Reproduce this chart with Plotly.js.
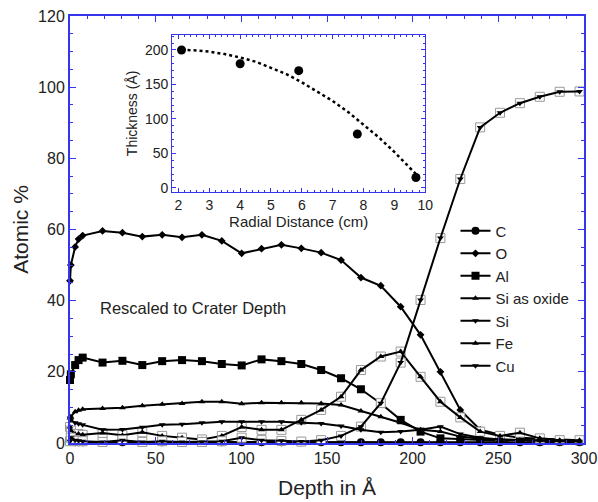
<!DOCTYPE html>
<html>
<head>
<meta charset="utf-8">
<script src="https://cdn.plot.ly/plotly-3.0.1.min.js"></script>
<style>html,body{margin:0;padding:0;background:#fff;}#chart{width:598px;height:502px;}</style>
</head>
<body>
<div id="chart"></div>
<script>
// Depth profile (Å)
const depth = [0, 0.5, 3, 5, 7.4, 19, 30.6, 42.2, 53.8, 65.4, 77, 88.6, 100.2, 111.8, 123.4, 135, 146.6, 158.2, 169.8, 181.4, 193, 204.6, 216.2, 227.8, 239.4, 251, 262.6, 274.2, 285.8, 297.4];
const C_vals = [0.3, 0.3, 0.2, 0.2, 0.2, 0.2, 0.2, 0.2, 0.2, 0.2, 0.2, 0.2, 0.2, 0.2, 0.2, 0.2, 0.2, 0.2, 0.2, 0.2, 0.2, 0.2, 0.2, 0.2, 0.2, 0.2, 0.2, 0.2, 0.2, 0.2];
const O_vals = [45.6, 50, 55.1, 57.3, 58.3, 59.6, 59.1, 58, 58.5, 57.8, 58.5, 56.8, 53.3, 54.6, 55.7, 54.7, 53.5, 51.4, 46.5, 44.2, 38.3, 30.4, 20, 9.3, 3.7, 2.3, 1.5, 1.2, 1, 0.8];
const Al_vals = [17.7, 19.3, 21.9, 23.3, 24, 22.6, 23.1, 21.9, 23, 23.3, 23, 22.2, 21.8, 23.5, 23, 22.2, 20.5, 18.2, 15.1, 11.1, 6.5, 3.2, 1.3, 1, 0.7, 0.6, 0.6, 0.5, 0.5, 0.5];
const SiOx_vals = [4.5, 3.5, 2.5, 2.5, 2.3, 2.8, 2.2, 3, 2, 1.5, 1, 2, 4.5, 3.7, 3.7, 6.5, 9.3, 13, 20.5, 24.3, 25.7, 18.6, 11.6, 7.2, 3.2, 2, 2.9, 1.3, 0.8, 0.8];
const Si_vals = [0.5, 1.5, 0.8, 0.6, 0.5, 0.3, 0.8, 0.3, 0.5, 0.3, 0.3, 0.5, 1.5, 0.8, 0.6, 0.4, 0.8, 2, 4.6, 11.2, 22.6, 40.2, 57.6, 74.2, 88.7, 92.8, 95.5, 97.3, 98.7, 98.8];
const Fe_vals = [7, 7.4, 8.8, 9.2, 9.5, 9.7, 9.9, 10.5, 10.9, 11.1, 11.6, 11.6, 11, 11.3, 11.3, 11.3, 11.1, 10.7, 9, 7.4, 5.7, 3.7, 3.2, 1.8, 1.2, 1, 0.8, 0.7, 0.6, 0.5];
const Cu_vals = [7, 6.5, 5.7, 5.4, 5.1, 3.7, 3.8, 4.4, 5.1, 5.3, 5.7, 6, 6, 6, 6, 5.7, 5.5, 4.8, 3.7, 3, 3.2, 3.7, 4.6, 2.5, 1.5, 1, 0.8, 0.6, 0.5, 0.5];

// Inset: thickness vs radial distance
const radial = [2.1, 4.0, 5.9, 7.8, 9.7];
const thickness = [200, 180, 170, 78, 15];
const fitRadial = [2.1, 2.5, 3, 3.5, 4, 4.5, 5, 5.5, 6, 6.5, 7, 7.5, 8, 8.5, 9, 9.5, 9.7];
const fitThickness = [200, 199.5, 197.5, 194, 189, 183, 174, 165, 153, 140, 126, 110, 92, 73, 52, 30, 20];

const blue = '#3535ee';
const font = 'Liberation Sans, Arial, sans-serif';

function line(name, y, symbol, size, extra) {
  return Object.assign({
    x: depth, y: y, name: name, type: 'scatter', mode: 'lines+markers',
    cliponaxis: false,
    line: {color: '#000', width: 2},
    marker: {symbol: symbol, size: size, color: '#000'},
    xaxis: 'x', yaxis: 'y'
  }, extra || {});
}

const traces = [
  line('C', C_vals, 'circle', 8),
  line('O', O_vals, 'diamond', 6),
  line('Al', Al_vals, 'square', 8),
  {x: depth, y: SiOx_vals, type: 'scatter', mode: 'markers', showlegend: false, cliponaxis: false,
   marker: {symbol: 'square', size: 9, color: '#fff', line: {color: '#999', width: 1}}, xaxis: 'x', yaxis: 'y'},
  line('Si as oxide', SiOx_vals, 'triangle-up', 6),
  {x: depth, y: Si_vals, type: 'scatter', mode: 'markers', showlegend: false, cliponaxis: false,
   marker: {symbol: 'square', size: 9, color: '#fff', line: {color: '#999', width: 1}}, xaxis: 'x', yaxis: 'y'},
  line('Si', Si_vals, 'triangle-down', 6),
  line('Fe', Fe_vals, 'triangle-up', 6),
  line('Cu', Cu_vals, 'triangle-down', 6),
  {x: fitRadial, y: fitThickness, type: 'scatter', mode: 'lines', showlegend: false,
   line: {color: '#000', width: 2.5, dash: 'dot'}, xaxis: 'x2', yaxis: 'y2'},
  {x: radial, y: thickness, type: 'scatter', mode: 'markers', showlegend: false, cliponaxis: false,
   marker: {symbol: 'circle', size: 9, color: '#000'}, xaxis: 'x2', yaxis: 'y2'}
];

const layout = {
  width: 598, height: 502,
  margin: {l: 70, r: 14, t: 16, b: 59},
  paper_bgcolor: '#fff', plot_bgcolor: '#fff',
  font: {family: font, color: '#222', size: 15},
  showlegend: true,
  legend: {x: 0.75, y: 0.535, xanchor: 'left', yanchor: 'top', bgcolor: 'rgba(0,0,0,0)',
           font: {size: 15, color: '#222'}, tracegroupgap: 0, itemwidth: 30},
  xaxis: {
    domain: [0, 1], anchor: 'y', range: [0, 300],
    showline: true, linecolor: blue, linewidth: 2, mirror: 'ticks',
    ticks: 'inside', ticklen: 6, tickcolor: blue, tickwidth: 1,
    dtick: 50, tick0: 0, showgrid: false, zeroline: false,
    minor: {dtick: 10, ticks: 'inside', ticklen: 3, tickcolor: blue, showgrid: false},
    ticklabeloverflow: 'allow',
    tickfont: {size: 16, color: '#222'},
    title: {text: 'Depth in Å', font: {size: 21, color: '#222'}, standoff: 14}
  },
  yaxis: {
    domain: [0, 1], anchor: 'x', range: [0, 120],
    showline: true, linecolor: blue, linewidth: 2, mirror: 'ticks',
    ticks: 'inside', ticklen: 6, tickcolor: blue, tickwidth: 1,
    dtick: 20, tick0: 0, showgrid: false, zeroline: false,
    minor: {dtick: 5, ticks: 'inside', ticklen: 3, tickcolor: blue, showgrid: false},
    ticklabeloverflow: 'allow',
    tickfont: {size: 16, color: '#222'},
    title: {text: 'Atomic %', font: {size: 21, color: '#222'}, standoff: 4}
  },
  xaxis2: {
    domain: [0.199, 0.691], anchor: 'y2', range: [1.8, 10],
    showline: true, linecolor: blue, linewidth: 1.2, mirror: 'ticks',
    ticks: 'inside', ticklen: 4, tickcolor: blue, tickwidth: 1,
    dtick: 1, tick0: 0, showgrid: false, zeroline: false,
    minor: {dtick: 0.2, ticks: 'inside', ticklen: 2, tickcolor: blue, showgrid: false},
    tickfont: {size: 14, color: '#222'},
    title: {text: 'Radial Distance (cm)', font: {size: 15, color: '#222'}, standoff: 2}
  },
  yaxis2: {
    domain: [0.588, 0.956], anchor: 'x2', range: [-6, 222],
    showline: true, linecolor: blue, linewidth: 1.2, mirror: 'ticks',
    ticks: 'inside', ticklen: 4, tickcolor: blue, tickwidth: 1,
    dtick: 50, tick0: 0, showgrid: false, zeroline: false,
    minor: {dtick: 10, ticks: 'inside', ticklen: 2, tickcolor: blue, showgrid: false},
    tickfont: {size: 14, color: '#222'},
    title: {text: 'Thickness (Å)', font: {size: 14, color: '#222'}, standoff: 4}
  },
  annotations: [
    {x: 72, y: 38, xref: 'x', yref: 'y', text: 'Rescaled to Crater Depth', showarrow: false,
     font: {size: 16.5, color: '#222'}}
  ]
};

Plotly.newPlot('chart', traces, layout, {displayModeBar: false, staticPlot: true});
</script>
</body>
</html>
